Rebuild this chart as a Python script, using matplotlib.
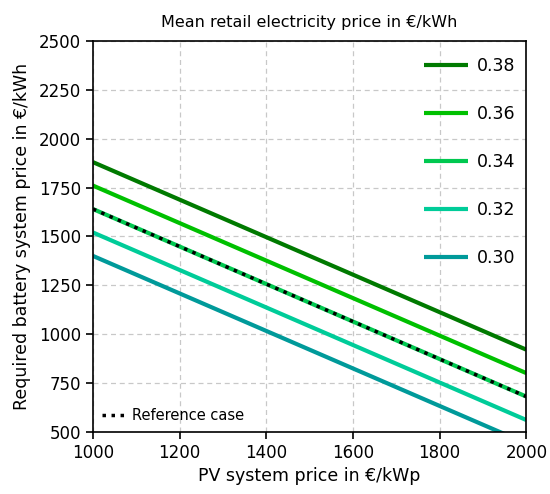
import matplotlib
matplotlib.use("Agg")
import matplotlib.pyplot as plt
import numpy as np

pv_price = [1000, 2000]
labels = ["0.38", "0.36", "0.34", "0.32", "0.30"]
start_vals = [1880, 1760, 1640, 1520, 1400]
end_vals = [920, 800, 680, 560, 440]
colors = ["#007A00", "#00C000", "#00C850", "#00CC99", "#009A9A"]
ref_vals = [1640, 680]

plt.rcParams['font.family'] = ['DejaVu Sans']
fig = plt.figure(figsize=(5.5, 4.94), dpi=100)
ax = fig.add_axes([0.169, 0.126, 0.788, 0.791])

handles = []
for lab, s, e, c in zip(labels, start_vals, end_vals, colors):
    h, = ax.plot(pv_price, [s, e], color=c, lw=3, label=lab, solid_capstyle='butt')
    handles.append(h)
ref, = ax.plot(pv_price, ref_vals, color='black', lw=2.5, ls=(0, (1, 1.6)), label='Reference case')

ax.set_xlim(1000, 2000)
ax.set_ylim(500, 2500)
ax.set_xticks([1000, 1200, 1400, 1600, 1800, 2000])
ax.set_yticks([500, 750, 1000, 1250, 1500, 1750, 2000, 2250, 2500])
ax.grid(True, ls=(0, (4, 3)), color='#C8C8C8', lw=0.9)
ax.set_axisbelow(True)
ax.tick_params(direction='out', labelsize=12, length=5, width=1.2)
for sp in ax.spines.values():
    sp.set_linewidth(1.2)
ax.set_xlabel("PV system price in €/kWp", fontsize=12.5, labelpad=4)
ax.set_ylabel("Required battery system price in €/kWh", fontsize=12.5, labelpad=6)
ax.set_title("Mean retail electricity price in €/kWh", fontsize=11.5, pad=10)

leg1 = ax.legend(handles=handles, loc='upper right', frameon=False, fontsize=12.5,
                 labelspacing=1.72, handlelength=2.5, handletextpad=0.55,
                 bbox_to_anchor=(1.0, 0.985), borderaxespad=0.2)
ax.add_artist(leg1)
ax.legend(handles=[ref], loc='lower left', frameon=False, fontsize=10.5,
          handlelength=1.6, handletextpad=0.5, borderaxespad=0.2)

fig.savefig("out.png", dpi=100)
